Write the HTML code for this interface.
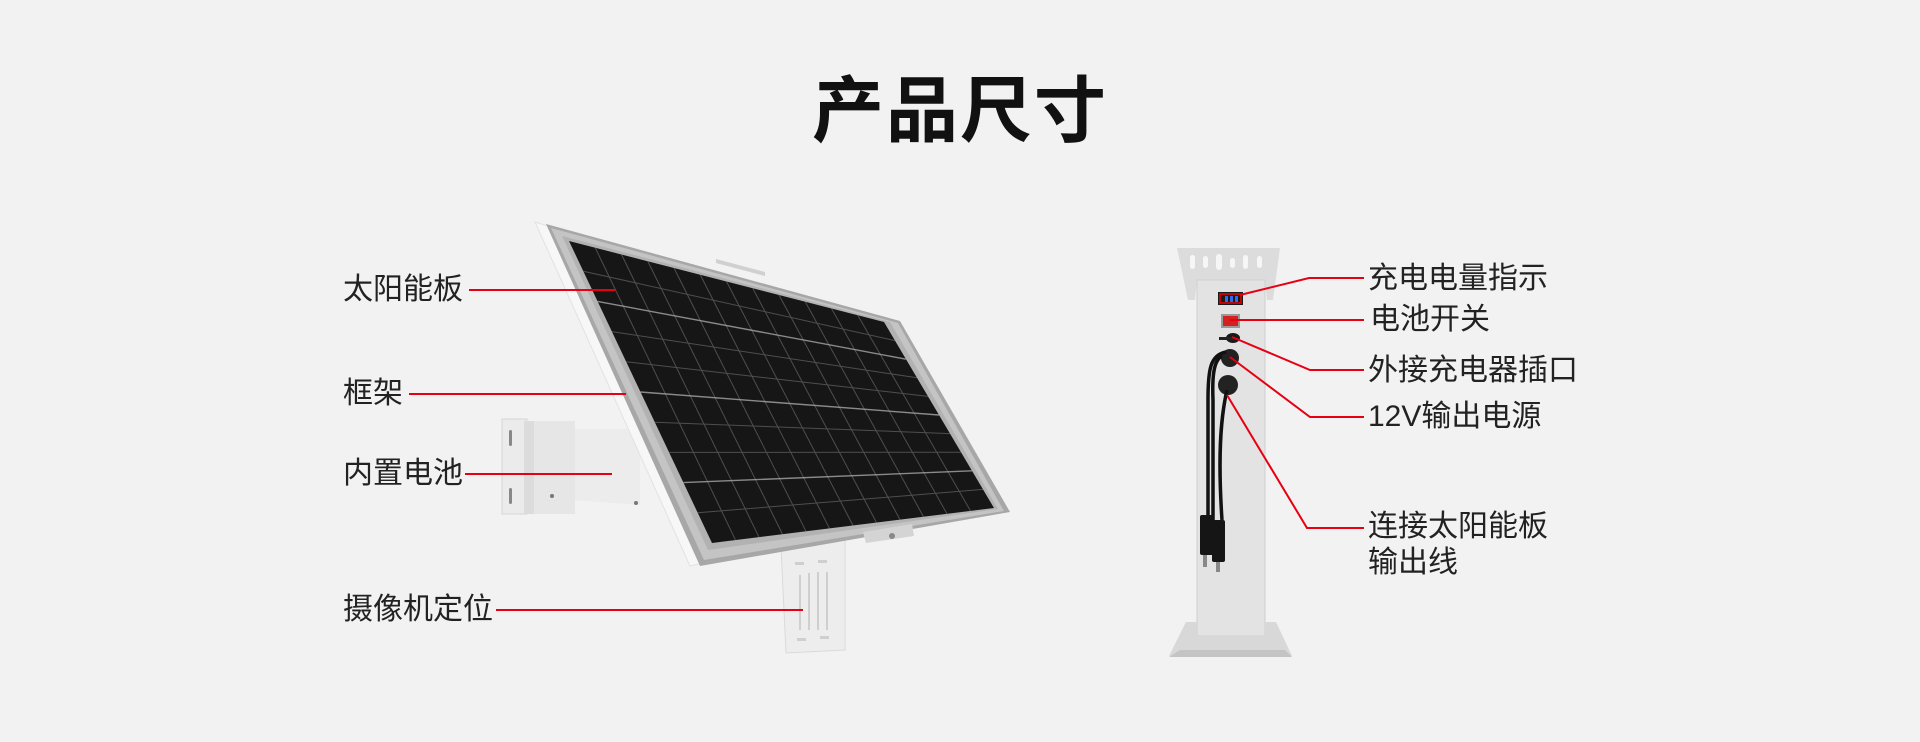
<!DOCTYPE html>
<html><head><meta charset="utf-8">
<style>
html,body{margin:0;padding:0;background:#f2f2f2;}
body{width:1920px;height:742px;overflow:hidden;position:relative;font-family:"Liberation Sans","Noto Sans CJK SC",sans-serif;}
.t{position:absolute;font-size:30px;color:#222;line-height:1;white-space:nowrap;font-family:"Liberation Sans","Noto Sans CJK SC",sans-serif;}
h1{position:absolute;left:0;width:1920px;top:70px;margin:0;text-align:center;font-size:72px;font-weight:bold;line-height:84px;color:#111;font-family:"Liberation Sans","Noto Sans CJK SC",sans-serif;letter-spacing:2px;}
svg{position:absolute;left:0;top:0;}
</style></head><body>
<h1>产品尺寸</h1>
<svg width="1920" height="742" viewBox="0 0 1920 742">
  <!-- wall bracket -->
  <polygon points="527,421 575,421 575,429 640,429 640,505 575,500 575,514 527,514" fill="#ececec"/>
  <rect x="527" y="421" width="48" height="93" fill="#e6e6e6"/>
  <rect x="502" y="419" width="25" height="95" fill="#ebebeb" stroke="#d6d6d6"/>
  <rect x="524" y="421" width="10" height="93" fill="#dcdcdc"/>
  <rect x="509" y="430" width="3" height="16" rx="1.5" fill="#888"/>
  <rect x="509" y="488" width="3" height="16" rx="1.5" fill="#888"/>
  <circle cx="552" cy="496" r="2" fill="#777"/><circle cx="636" cy="503" r="2" fill="#777"/>
  <!-- bottom bracket -->
  <polygon points="781,547 845,540 845,650 786,653" fill="#ededed" stroke="#dadada"/>
  <g fill="#cfcfcf"><rect x="795" y="562" width="9" height="3"/><rect x="818" y="560" width="9" height="3"/><rect x="799" y="575" width="2" height="55"/><rect x="808" y="573" width="2" height="57"/><rect x="817" y="572" width="2" height="58"/><rect x="826" y="572" width="2" height="58"/><rect x="797" y="638" width="9" height="3"/><rect x="820" y="636" width="9" height="3"/></g>
  <!-- panel side -->
  <polygon points="535,222 548,226 706,562 690,566" fill="#f7f7f7" stroke="#e2e2e2"/>
  <!-- panel frame -->
  <polygon points="546,224 900,321 1010,512 700,566" fill="#a7a7a7"/>
  <polygon points="551,228 898,323 1004,511 704,560" fill="#c4c4c4"/>
  <polygon points="562,236 890,322 998,509 708,550" fill="#b2b2b2"/>
  <polygon points="569,241 884,322 994,508 712,543" fill="#161616"/>
  <g id="grid" stroke="#7c7c7c" stroke-width="1" opacity="0.55"></g>
  <g id="grid2" stroke="#a8a8a8" stroke-width="1.4" opacity="0.8"></g>
  <polygon points="716,259 765,272 765,276 716,263" fill="#d0d0d0"/>
  <polygon points="863,532 912,524 914,536 866,543" fill="#d4d4d4"/>
  <circle cx="892" cy="536" r="3" fill="#888"/>
  <!-- device -->
  <polygon points="1177,248 1280,248 1273,300 1267,300 1265,280 1197,280 1195,300 1188,300" fill="#dcdcdc"/>
  <g fill="#f6f6f6"><rect x="1190" y="255" width="5" height="14" rx="2.5"/><rect x="1203" y="256" width="5" height="12" rx="2.5"/><rect x="1216" y="254" width="6" height="16" rx="3"/><rect x="1230" y="258" width="5" height="10" rx="2.5"/><rect x="1243" y="255" width="5" height="14" rx="2.5"/><rect x="1257" y="256" width="5" height="12" rx="2.5"/></g>
  <rect x="1197" y="280" width="68" height="356" fill="#e3e3e3" stroke="#cfcfcf"/>
  <polygon points="1186,622 1197,622 1197,636 1265,636 1265,622 1276,622 1292,656 1169,656" fill="#d8d8d8"/>
  <polygon points="1180,650 1285,650 1292,657 1169,657" fill="#c4c4c4"/>
  <rect x="1218" y="292" width="25" height="13" fill="#1a1a1a"/>
  <rect x="1220" y="294" width="21" height="9" fill="none" stroke="#e00" stroke-width="1.5"/>
  <g fill="#2a6df0"><rect x="1225" y="296" width="3" height="6"/><rect x="1230" y="296" width="3" height="6"/><rect x="1235" y="296" width="3" height="6"/></g>
  <rect x="1221" y="314" width="19" height="14" fill="#9a9a9a"/>
  <rect x="1223" y="316" width="15" height="10" fill="#d42020"/>
  <ellipse cx="1233" cy="338" rx="7" ry="5" fill="#1a1a1a"/><rect x="1219" y="337" width="14" height="3" fill="#222"/>
  <circle cx="1230" cy="358" r="9" fill="#222"/>
  <circle cx="1228" cy="385" r="10" fill="#222"/>
  <g fill="none" stroke="#111" stroke-width="3.5">
    <path d="M1226,352 C1210,355 1208,370 1208,400 L1208,520"/>
    <path d="M1222,356 C1214,360 1212,375 1213,400 L1213,520"/>
    <path d="M1227,390 C1220,420 1218,460 1222,520"/>
  </g>
  <g fill="#151515"><rect x="1200" y="515" width="14" height="40" rx="2"/><rect x="1212" y="520" width="13" height="42" rx="2"/></g>
  <rect x="1203" y="555" width="4" height="12" fill="#888"/><rect x="1216" y="562" width="4" height="10" fill="#888"/>
  <!-- connectors -->
  <g stroke="#e60012" stroke-width="2" fill="none">
    <line x1="469" y1="290" x2="616" y2="290"/>
    <line x1="409" y1="394" x2="626" y2="394"/>
    <line x1="465" y1="474" x2="612" y2="474"/>
    <line x1="496" y1="610" x2="803" y2="610"/>
    <polyline points="1240,295 1309,278 1364,278"/>
    <polyline points="1230,320 1364,320"/>
    <polyline points="1232,337 1310,370 1364,370"/>
    <polyline points="1230,357 1310,417 1364,417"/>
    <polyline points="1227,395 1307,528 1364,528"/>
  </g>
</svg>
<div class="t" style="left:343px;top:275px;">太阳能板</div>
<div class="t" style="left:343px;top:379px;">框架</div>
<div class="t" style="left:343px;top:459px;">内置电池</div>
<div class="t" style="left:343px;top:595px;">摄像机定位</div>
<div class="t" style="left:1368px;top:264px;">充电电量指示</div>
<div class="t" style="left:1370px;top:305px;">电池开关</div>
<div class="t" style="left:1368px;top:356px;">外接充电器插口</div>
<div class="t" style="left:1368px;top:402px;">12V输出电源</div>
<div class="t" style="left:1368px;top:512px;">连接太阳能板</div>
<div class="t" style="left:1368px;top:548px;">输出线</div>
<script>
(function(){
 var P=[[569,241],[884,322],[994,508],[712,543]];
 function pt(u,v){var a=P[0],b=P[1],c=P[2],d=P[3];
  var x=(1-u)*(1-v)*a[0]+u*(1-v)*b[0]+u*v*c[0]+(1-u)*v*d[0];
  var y=(1-u)*(1-v)*a[1]+u*(1-v)*b[1]+u*v*c[1]+(1-u)*v*d[1];return [x,y];}
 var g=document.getElementById('grid'),g2=document.getElementById('grid2'),ns='http://www.w3.org/2000/svg';
 function L(p,q,par){var l=document.createElementNS(ns,'line');l.setAttribute('x1',p[0]);l.setAttribute('y1',p[1]);l.setAttribute('x2',q[0]);l.setAttribute('y2',q[1]);par.appendChild(l);}
 var C=12,R=10;
 for(var i=1;i<C;i++){L(pt(i/C,0),pt(i/C,1),g);}
 for(var j=1;j<R;j++){L(pt(0,j/R),pt(1,j/R),(j==2||j==5||j==8)?g2:g);}
})();
</script>
</body></html>
